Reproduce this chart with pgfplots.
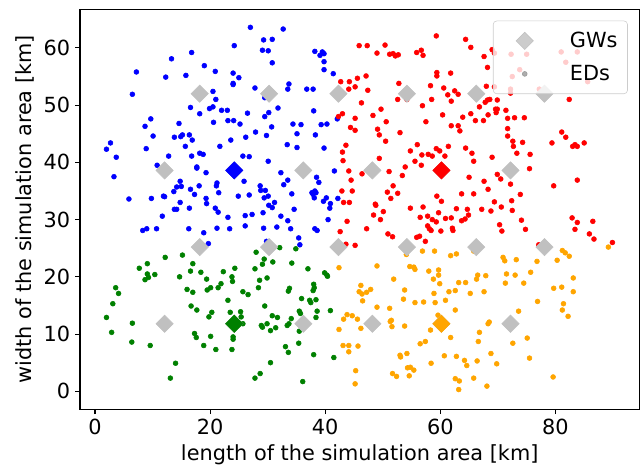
\documentclass[border=0pt]{standalone}
\usepackage{fontspec}
\setmainfont{DejaVu Sans}
\usepackage{pgfplots}
\pgfplotsset{compat=1.18}
\definecolor{silverc}{RGB}{192,192,192}
\definecolor{mplgreen}{RGB}{0,128,0}
\definecolor{mplorange}{RGB}{255,165,0}

\pgfplotstableread{
x y
16.8 59.2
13.3 58.1
7.2 55.8
12.3 54.9
15.8 55.2
19.0 56.9
20.9 55.9
6.5 51.9
20.5 52.4
21.0 51.0
16.6 49.6
18.2 48.5
19.9 49.4
20.5 49.7
22.0 49.1
20.6 47.0
9.7 47.6
8.7 46.3
14.6 46.8
10.1 44.6
13.8 44.4
14.9 44.5
15.2 44.8
16.4 44.8
16.9 43.9
15.7 42.8
2.7 43.4
2.0 42.3
3.7 40.9
8.9 42.4
21.7 42.8
12.8 41.1
16.8 41.1
18.2 41.6
18.8 41.4
10.8 39.5
17.7 39.2
17.7 39.0
19.3 38.2
3.3 37.5
14.8 36.7
15.0 35.8
14.2 35.7
13.7 34.9
16.6 35.3
17.3 34.4
18.1 35.9
21.2 36.4
21.1 35.9
21.5 34.7
5.9 33.6
9.8 33.7
11.9 34.1
12.1 34.0
19.3 33.7
19.4 32.8
14.8 33.0
16.4 32.0
13.8 31.8
14.2 31.8
20.9 32.0
27.0 63.6
32.7 63.3
24.2 60.4
29.3 61.4
30.8 61.5
29.1 59.6
30.1 59.5
30.8 57.4
38.2 59.4
39.1 58.7
39.5 59.3
39.8 59.0
39.8 57.6
39.8 56.2
41.4 55.5
24.0 55.6
25.0 54.8
24.0 53.8
24.0 53.6
27.8 53.0
29.5 51.3
33.7 53.7
33.5 52.8
36.8 52.8
37.9 52.8
23.0 49.1
26.5 48.6
31.8 49.5
30.2 48.7
29.5 48.0
23.1 47.3
24.1 47.3
25.2 46.7
38.0 49.0
42.1 47.6
34.4 46.7
35.8 46.6
39.3 46.6
40.3 46.7
30.7 46.2
27.9 45.3
26.2 44.4
29.8 44.7
35.1 45.0
38.3 44.8
23.6 43.9
33.4 43.1
35.1 42.6
39.8 42.5
25.7 41.1
26.8 41.0
30.1 40.2
32.3 38.2
41.6 38.5
25.9 36.7
33.5 36.9
32.8 36.1
38.5 37.4
38.9 36.5
28.7 35.9
28.8 35.1
29.6 35.1
30.1 34.1
29.4 33.8
34.2 34.5
26.8 34.3
24.9 34.1
31.2 33.0
30.2 32.5
30.8 32.1
34.6 31.8
37.7 34.7
38.2 35.0
38.4 34.7
38.1 33.8
37.9 34.4
39.7 33.2
40.2 33.8
40.9 32.8
40.8 32.0
42.2 33.7
11.7 30.6
21.4 31.3
8.3 28.1
9.0 28.4
10.7 28.4
16.3 28.4
18.9 27.7
21.2 28.5
19.7 25.8
23.1 30.4
26.1 30.7
27.3 30.9
29.2 31.2
32.3 30.6
33.5 29.8
23.4 28.4
26.1 28.9
29.3 28.5
31.6 28.7
34.0 28.4
38.2 28.4
38.6 28.1
40.5 30.0
35.4 26.8
35.6 25.6
29.8 26.2
}\bluedata

\pgfplotstableread{
x y
45.9 60.4
42.7 54.1
44.2 54.1
45.6 54.7
44.1 52.8
45.2 53.2
43.0 48.5
42.3 48.0
45.2 47.7
44.4 46.1
45.2 45.6
43.6 43.0
43.0 41.8
43.1 40.3
44.1 38.5
44.5 36.9
42.9 35.0
44.7 35.0
43.2 33.0
44.2 33.0
59.3 62.1
64.4 61.5
65.3 60.1
47.3 60.4
50.4 60.5
49.0 59.1
51.2 58.9
51.8 59.0
52.2 58.6
52.7 58.8
55.9 59.2
56.7 59.6
57.0 58.7
67.6 58.5
68.2 56.6
69.0 59.7
59.4 55.7
59.4 55.1
61.8 55.6
47.1 55.1
47.4 52.6
52.8 53.8
58.3 53.4
60.6 53.0
62.5 52.5
63.1 51.9
61.3 51.8
61.9 50.7
52.6 51.0
54.2 51.0
58.5 51.0
46.3 50.4
56.9 49.9
68.0 53.3
68.2 50.9
66.8 49.7
67.8 50.5
68.6 51.0
49.7 49.3
48.3 48.2
60.4 48.3
63.9 47.9
65.3 48.5
66.1 47.3
67.5 47.3
68.3 48.3
50.6 47.1
57.5 47.1
49.1 45.8
49.4 44.8
53.0 45.2
61.9 46.4
63.1 46.4
63.4 45.5
50.5 43.7
56.0 43.1
54.8 42.0
61.4 42.8
64.4 42.5
59.3 42.4
59.9 42.0
60.8 41.1
56.8 41.3
57.9 41.4
58.6 41.1
55.6 40.2
56.7 39.5
65.5 41.6
65.8 40.2
69.0 40.9
49.4 40.7
46.4 38.0
51.1 38.4
53.9 39.2
53.4 37.7
65.0 37.4
67.6 36.7
51.8 35.9
50.8 34.8
52.6 34.6
51.4 33.7
48.7 32.7
59.4 34.1
60.2 33.2
63.7 34.5
65.8 34.5
68.3 35.3
54.8 32.0
57.0 32.2
62.8 31.9
64.7 31.8
67.2 31.8
69.4 59.1
72.3 58.9
75.0 58.9
81.0 59.3
83.8 59.3
81.8 57.5
85.6 54.1
73.8 56.2
72.5 55.0
69.4 53.2
72.2 52.8
72.2 52.1
77.2 52.8
82.4 51.0
69.9 50.9
69.6 49.3
69.9 49.3
69.7 48.7
71.4 49.1
71.7 47.7
72.9 47.8
74.6 47.8
71.7 45.9
71.7 44.6
81.1 45.3
81.8 44.4
72.6 43.7
72.7 42.8
74.3 43.5
79.4 43.4
83.0 42.8
83.4 43.1
83.8 42.8
85.0 43.4
73.3 41.6
75.6 41.4
75.5 38.9
69.9 37.9
70.5 37.1
72.2 36.2
79.7 35.9
83.8 36.9
73.9 34.4
69.4 33.1
72.4 33.3
70.6 32.2
43.8 29.7
42.6 27.9
43.6 25.7
45.2 25.5
48.8 32.5
50.1 31.4
48.4 30.8
49.6 30.0
59.7 31.2
56.5 30.4
57.8 30.6
58.6 30.0
59.3 29.6
64.9 30.8
64.3 30.1
63.7 29.8
60.9 30.2
61.9 30.3
57.8 28.9
58.1 28.4
58.4 28.1
60.1 28.0
62.1 28.5
62.2 28.1
47.2 28.4
50.9 27.5
51.7 27.0
55.9 26.9
56.4 27.1
57.4 26.2
68.8 31.5
72.5 31.6
74.1 29.9
74.8 28.3
70.3 29.1
70.7 28.0
82.9 30.3
83.8 29.5
86.5 29.7
83.4 28.3
85.9 27.5
86.7 26.6
89.9 26.0
77.1 25.6
}\reddata

\pgfplotstableread{
x y
12.2 23.4
15.2 23.8
7.7 21.5
9.1 22.3
17.0 22.3
9.1 20.5
9.3 19.9
8.7 19.5
10.4 20.4
14.7 20.0
16.6 21.0
18.4 20.8
19.4 19.6
22.3 20.9
3.6 18.1
4.1 17.1
16.0 17.8
17.0 17.3
19.5 17.7
20.1 18.1
21.4 18.1
21.9 18.8
3.1 15.3
16.7 14.9
17.7 14.2
20.3 13.8
19.8 13.0
2.0 12.9
6.5 11.9
2.9 10.3
6.4 8.6
9.6 8.0
17.3 10.1
17.6 9.4
20.1 9.6
18.9 8.0
21.0 7.3
14.0 4.9
13.1 2.3
28.0 24.3
32.1 25.1
34.9 24.9
29.4 23.1
29.1 22.2
30.9 22.6
34.2 22.4
27.8 21.4
24.3 21.5
37.0 21.4
39.9 20.7
40.3 20.3
40.4 20.1
29.9 19.8
28.6 19.4
23.8 20.0
23.9 19.2
38.0 18.7
38.1 18.1
37.9 17.6
28.4 18.1
33.8 18.0
33.6 17.5
25.7 17.4
26.6 16.9
35.9 16.2
37.3 15.9
37.5 15.5
38.4 16.0
23.1 15.9
29.5 14.9
40.9 14.1
35.5 14.0
35.7 13.6
38.6 14.0
23.5 13.8
25.3 13.9
25.4 13.0
38.4 12.9
30.8 13.2
31.7 12.9
34.1 12.7
33.7 11.8
33.4 11.5
25.7 11.8
29.9 11.8
28.9 11.5
29.1 11.2
31.4 11.1
30.5 10.6
35.5 10.5
24.0 9.5
24.0 9.1
23.8 7.3
33.1 7.8
35.4 8.4
33.6 6.8
38.0 6.4
41.5 5.9
30.5 5.0
28.7 3.1
27.8 2.3
36.1 1.7
}\greendata

\pgfplotstableread{
x y
42.4 21.6
45.9 17.4
43.8 13.4
44.7 13.2
45.6 12.6
43.2 12.6
42.4 10.8
43.1 8.0
44.1 8.0
44.1 6.9
45.7 7.9
45.3 3.6
45.2 1.3
54.1 23.9
56.9 24.5
59.0 24.5
61.8 23.7
62.8 24.0
65.8 24.5
49.0 21.9
54.7 21.8
55.4 21.7
55.6 21.3
58.0 21.0
59.7 21.2
59.7 20.3
51.9 19.6
58.8 19.6
59.9 18.8
63.2 19.0
64.4 19.0
66.5 20.3
66.3 19.6
67.9 20.2
46.2 18.5
47.9 17.8
47.2 17.3
46.4 17.0
53.8 17.7
61.5 17.4
62.6 17.6
58.9 17.1
65.2 17.1
67.6 17.4
46.5 15.8
53.6 16.1
55.6 15.5
57.1 15.6
59.1 15.5
60.9 15.9
49.0 14.7
51.2 14.5
62.6 14.2
51.3 12.2
51.5 12.4
51.6 11.3
53.8 11.4
59.6 13.3
58.3 10.7
46.2 11.0
61.8 9.4
66.8 10.3
66.6 8.7
68.5 12.1
68.3 11.8
56.5 8.3
57.4 8.7
53.0 6.3
53.1 6.0
54.2 6.6
58.4 4.9
60.7 6.2
62.8 6.1
64.2 5.4
64.6 4.5
66.4 5.3
68.8 6.6
51.7 3.1
52.4 2.6
54.3 4.1
54.8 4.2
55.4 3.7
54.6 2.7
62.6 2.2
63.3 1.8
63.2 0.3
65.8 2.3
68.1 0.9
89.2 25.2
81.2 24.6
81.7 24.2
82.4 23.6
70.9 23.4
71.2 22.8
73.2 23.0
76.8 22.7
80.3 22.9
75.7 20.8
71.5 20.5
73.0 20.3
71.3 18.9
74.5 18.9
83.1 19.8
79.7 18.0
81.1 18.2
83.1 17.4
76.9 15.7
81.4 15.3
81.2 14.2
73.6 14.0
82.2 13.1
75.1 9.3
72.6 8.4
69.8 4.8
75.5 5.8
79.6 2.5
}\orangedata

\begin{document}
\begin{tikzpicture}
\useasboundingbox (-57.6bp,-43.7bp) rectangle (403.2bp,294.7bp);
\begin{axis}[
    at={(0,0)}, anchor=south west,
    scale only axis, width=402.8bp, height=288bp,
    xmin=-2.6, xmax=94.6, ymin=-3.15, ymax=66.75,
    xtick={0,20,40,60,80}, ytick={0,10,20,30,40,50,60},
    tick align=outside, tick pos=left,
    major tick length=3.5bp,
    every tick/.style={black, line width=0.8bp},
    axis line style={line width=0.8bp},
    font=\fontsize{15bp}{18bp}\selectfont,
    /pgf/number format/assume math mode=true,
    xlabel={length of the simulation area [km]},
    ylabel={width of the simulation area [km]},
    legend cell align=left,
    legend style={at={(1,1)}, anchor=north east, xshift=-8.4bp, yshift=-8.2bp,
        draw=black!20, rounded corners=2.5bp, fill=white, fill opacity=0.8,
        draw opacity=1, text opacity=1, inner xsep=7.2bp, inner ysep=2.4bp,
        nodes={inner sep=0pt, minimum height=23.8bp},
        font=\fontsize{15bp}{18bp}\selectfont},
    legend image code/.code={\path[draw=none, fill=none] (0bp,0bp) -- (48bp,0bp);
        \draw[#1] plot coordinates {(15.5bp,0bp)};},
]
\addplot[only marks, mark=*, mark size=1.75bp, blue, forget plot] table {\bluedata};
\addplot[only marks, mark=*, mark size=1.75bp, red, forget plot] table {\reddata};
\addplot[only marks, mark=*, mark size=1.75bp, mplgreen, forget plot] table {\greendata};
\addplot[only marks, mark=*, mark size=1.75bp, mplorange, forget plot] table {\orangedata};
% gateways
\addplot[only marks, mark=square*, mark size=4.4bp, silverc, mark options={rotate=45}, forget plot]
coordinates {
    (12.1,11.8)(24.2,11.8)(36.2,11.8)(48.2,11.8)(60.2,11.8)(72.2,11.8)
    (18.2,25.2)(30.25,25.2)(42.3,25.2)(54.2,25.2)(66.25,25.2)(78.1,25.2)
    (12.1,38.6)(24.2,38.6)(36.2,38.6)(48.2,38.6)(60.2,38.6)(72.2,38.6)
    (18.2,52.0)(30.25,52.0)(42.3,52.0)(54.2,52.0)(66.25,52.0)(78.1,52.0)
};
\addplot[only marks, mark=square*, mark size=4.4bp, blue, mark options={rotate=45}, forget plot] coordinates {(24.2,38.6)};
\addplot[only marks, mark=square*, mark size=4.4bp, red, mark options={rotate=45}, forget plot] coordinates {(60.2,38.6)};
\addplot[only marks, mark=square*, mark size=4.4bp, mplgreen, mark options={rotate=45}, forget plot] coordinates {(24.2,11.8)};
\addplot[only marks, mark=square*, mark size=4.4bp, mplorange, mark options={rotate=45}, forget plot] coordinates {(60.2,11.8)};
\addlegendimage{only marks, mark=square*, mark size=4.4bp, silverc, mark options={rotate=45}}
\addlegendentry{GWs}
\addlegendimage{only marks, mark=*, mark size=1.75bp, black!40}
\addlegendentry{EDs}
\end{axis}
\end{tikzpicture}
\end{document}
